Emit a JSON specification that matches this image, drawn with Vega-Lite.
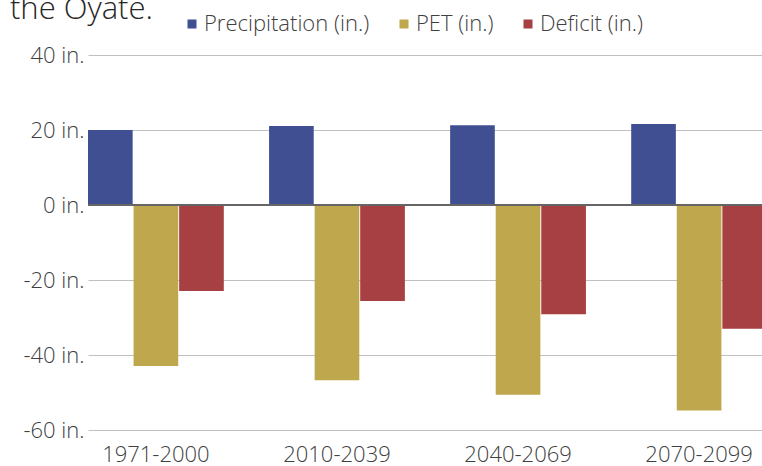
{
  "$schema": "https://vega.github.io/schema/vega-lite/v6.json",
  "autosize": {"type": "none"},
  "width": 674,
  "height": 375,
  "padding": {"left": 88, "top": 55, "right": 0, "bottom": 36},
  "background": "white",
  "title": {
    "text": "the Oyate.",
    "anchor": "start",
    "frame": "group",
    "orient": "top",
    "dx": -78,
    "dy": 37,
    "fontSize": 31,
    "font": "Open Sans",
    "fontWeight": 300,
    "color": "#262626",
    "baseline": "alphabetic",
    "offset": 0
  },
  "data": {
    "values": [
      {"period": "1971-2000", "series": "Precipitation (in.)", "value": 20.0},
      {"period": "1971-2000", "series": "PET (in.)", "value": -42.9},
      {"period": "1971-2000", "series": "Deficit (in.)", "value": -22.9},
      {"period": "2010-2039", "series": "Precipitation (in.)", "value": 21.1},
      {"period": "2010-2039", "series": "PET (in.)", "value": -46.7},
      {"period": "2010-2039", "series": "Deficit (in.)", "value": -25.6},
      {"period": "2040-2069", "series": "Precipitation (in.)", "value": 21.3},
      {"period": "2040-2069", "series": "PET (in.)", "value": -50.6},
      {"period": "2040-2069", "series": "Deficit (in.)", "value": -29.1},
      {"period": "2070-2099", "series": "Precipitation (in.)", "value": 21.6},
      {"period": "2070-2099", "series": "PET (in.)", "value": -54.8},
      {"period": "2070-2099", "series": "Deficit (in.)", "value": -33.0}
    ]
  },
  "config": {
    "view": {"stroke": null},
    "font": "Open Sans"
  },
  "layer": [
    {
      "mark": {"type": "bar"},
      "encoding": {
        "x": {
          "field": "period",
          "type": "nominal",
          "scale": {"paddingInner": 0.25, "paddingOuter": 0, "range": [0, 679]},
          "axis": {
            "title": null,
            "labelAngle": 0,
            "labelFontSize": 22,
            "labelFontWeight": 300,
            "labelColor": "#404040",
            "labelFont": "Open Sans",
            "ticks": false,
            "domain": false,
            "labelPadding": 14
          }
        },
        "xOffset": {
          "field": "series",
          "type": "nominal",
          "sort": ["Precipitation (in.)", "PET (in.)", "Deficit (in.)"],
          "scale": {"paddingInner": 0.02, "paddingOuter": 0}
        },
        "y": {
          "field": "value",
          "type": "quantitative",
          "scale": {"domain": [-60, 40], "nice": false},
          "axis": {
            "title": null,
            "values": [-60, -40, -20, 0, 20, 40],
            "labelExpr": "datum.value + ' in.'",
            "labelFontSize": 22,
            "labelFontWeight": 300,
            "labelColor": "#404040",
            "labelFont": "Open Sans",
            "ticks": false,
            "domain": false,
            "labelPadding": 4,
            "gridColor": "#c0c0c0",
            "gridWidth": 1
          }
        },
        "color": {
          "field": "series",
          "type": "nominal",
          "sort": ["Precipitation (in.)", "PET (in.)", "Deficit (in.)"],
          "scale": {
            "domain": ["Precipitation (in.)", "PET (in.)", "Deficit (in.)"],
            "range": ["#3f4f91", "#bfa74d", "#a64042"]
          },
          "legend": {
            "title": null,
            "orient": "none",
            "direction": "horizontal",
            "legendX": 93,
            "legendY": -42,
            "symbolType": "square",
            "symbolSize": 81,
            "symbolStrokeWidth": 0,
            "labelFontSize": 22,
            "labelFontWeight": 300,
            "labelFont": "Open Sans",
            "labelColor": "#404040",
            "labelOffset": 1,
            "labelLimit": 400,
            "columnPadding": 23,
            "padding": 0
          }
        }
      }
    },
    {
      "mark": {"type": "rule", "color": "#666666", "strokeWidth": 1.5},
      "encoding": {"y": {"datum": 0}}
    }
  ]
}
